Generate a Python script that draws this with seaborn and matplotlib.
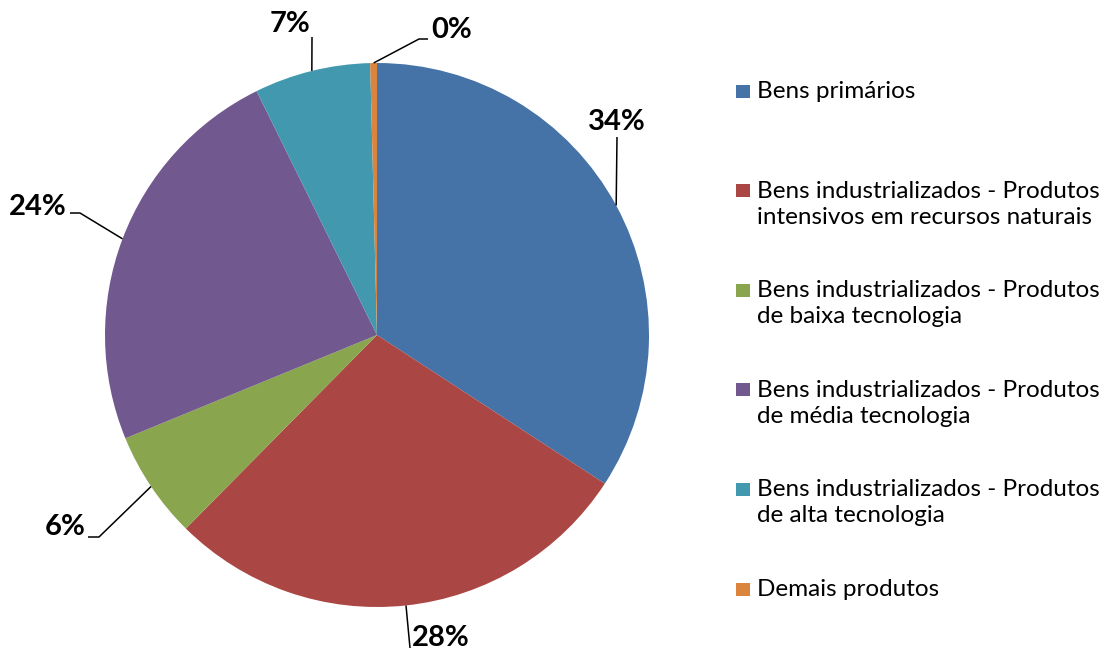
import matplotlib
matplotlib.use("Agg")
import matplotlib.pyplot as plt
import numpy as np
import seaborn as sns

categories = [
    "Bens primários",
    "Bens industrializados - Produtos\nintensivos em recursos naturais",
    "Bens industrializados - Produtos\nde baixa tecnologia",
    "Bens industrializados - Produtos\nde média tecnologia",
    "Bens industrializados - Produtos\nde alta tecnologia",
    "Demais produtos",
]
shares = [34.2, 28.2, 6.4, 23.9, 6.9, 0.4]
pct_labels = ["34%", "28%", "6%", "24%", "7%", "0%"]
colors = ["#4572A7", "#AA4643", "#89A54E", "#71588F", "#4198AF", "#DB843D"]

# pie center / radius in pixels of the 1111x650 canvas
CX, CY, R = 377, 335, 272


def px(x, y):
    return (x - CX) / R, (CY - y) / R


sns.set_theme(style="white")
plt.rcParams["font.family"] = ["Lato", "DejaVu Sans"]

fig = plt.figure(figsize=(11.11, 6.5), dpi=100)
ax = fig.add_axes([0, 0, 1, 1])

wedges, _ = ax.pie(shares, colors=colors, startangle=90, counterclock=False,
                   radius=1, center=(0, 0), frame=True,
                   wedgeprops=dict(linewidth=0))
ax.set_xlim(-CX / R, (1111 - CX) / R)
ax.set_ylim(-(650 - CY) / R, CY / R)
ax.axis("off")

# label layout: text position, leader elbow points (pixels)
label_layout = [
    ((617, 122), [(617, 137)]),
    ((441, 638), [(410, 648)]),
    ((65, 527), [(99, 537), (88, 537)]),
    ((38, 207), [(80, 213), (70, 213)]),
    ((290, 24), [(312, 37)]),
    ((452, 30), [(419, 39), (428, 39)]),
]

for w, lab, (tpos, elbows) in zip(wedges, pct_labels, label_layout):
    mid = np.deg2rad((w.theta1 + w.theta2) / 2)
    pts = [(np.cos(mid), np.sin(mid))] + [px(*e) for e in elbows]
    xs, ys = zip(*pts)
    ax.plot(xs, ys, color="black", lw=1.1, solid_capstyle="butt")
    ax.text(*px(*tpos), lab, ha="center", va="center", fontsize=21,
            fontweight="bold", color="black")

# legend drawn by hand so markers sit on the first text line
for i, (cat, col) in enumerate(zip(categories, colors)):
    top = 83 + i * 99.6
    mx, my = px(743, top + 8)
    ax.add_patch(plt.Rectangle((mx - 7 / R, my - 6.5 / R), 14 / R, 13 / R,
                               color=col, lw=0))
    ax.text(*px(757, top - 2), cat, ha="left", va="top", fontsize=17.5,
            color="black", linespacing=1.3)

fig.savefig("out.png", dpi=100)
